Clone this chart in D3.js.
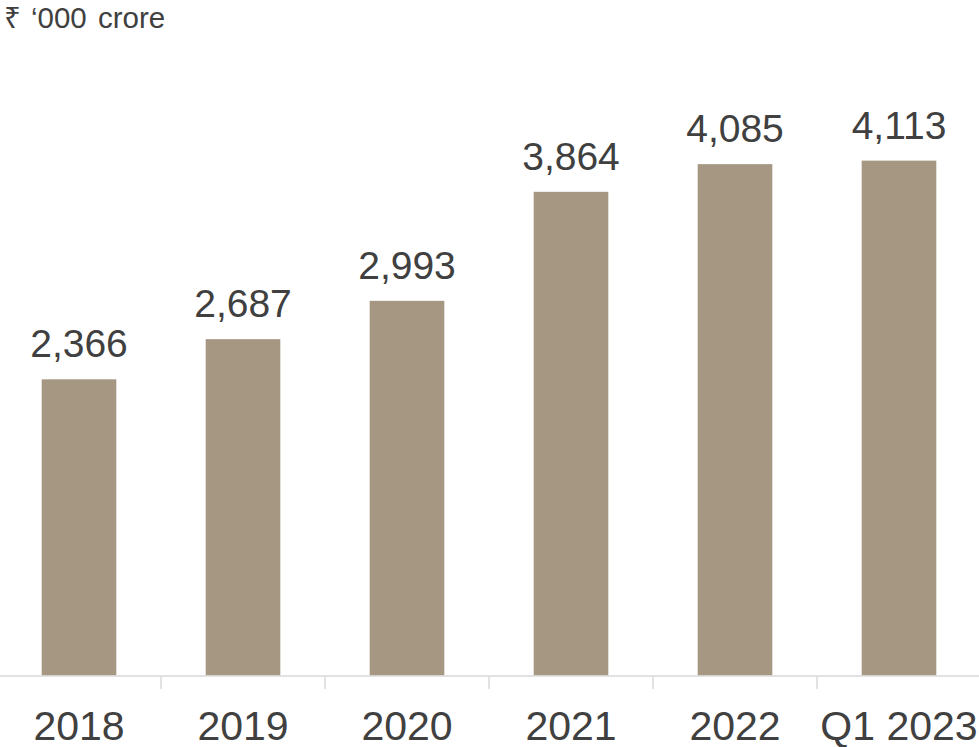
<!DOCTYPE html>
<html><head><meta charset="utf-8">
<script src="https://cdn.jsdelivr.net/npm/d3@7"></script>
<style>body{margin:0;background:#fff}svg{display:block}text{font-family:"Liberation Sans",Arial,sans-serif}</style>
</head><body><svg id="c" width="979" height="747"></svg>
<script>
const categories = ["2018","2019","2020","2021","2022","Q1 2023"];
const values = [2366,2687,2993,3864,4085,4113];
const unitParts = ["₹", "‘000 crore"];

const svg = d3.select("#c");
const x = d3.scaleBand().domain(categories).range([-3, 981]).paddingInner(0.545).paddingOuter(0.2725);
const y = d3.scaleLinear().domain([0, 5000]).range([675.5, 49.6]);
const fmt = d3.format(",");

const title = svg.append("text").attr("y", 27.5).attr("font-size", 29.5).attr("fill", "#404040").attr("word-spacing", 3);
const partX = [4, 31];
title.selectAll("tspan").data(unitParts).join("tspan").attr("x", (d,i) => partX[i]).text((d,i) => i === 0 ? d + " " : d);

svg.selectAll("rect.bar").data(values).join("rect").attr("class","bar")
  .attr("x", (d,i) => x(categories[i])).attr("width", x.bandwidth())
  .attr("y", d => y(d)).attr("height", d => y(0) - y(d)).attr("fill", "#A69783");

svg.selectAll("text.val").data(values).join("text").attr("class","val")
  .attr("x", (d,i) => x(categories[i]) + x.bandwidth()/2).attr("y", d => y(d) - 22)
  .attr("text-anchor","middle").attr("font-size", 39).attr("fill","#404040").text(d => fmt(d));

// axis
svg.append("line").attr("x1",0).attr("x2",979).attr("y1",676).attr("y2",676).attr("stroke","#D9D9D9").attr("stroke-width",1.5);
const step = x.step();
svg.selectAll("line.tick").data(categories.slice(1)).join("line").attr("class","tick")
  .attr("x1", d => x(d) - step*x.paddingInner()/2).attr("x2", d => x(d) - step*x.paddingInner()/2)
  .attr("y1",676).attr("y2",689).attr("stroke","#D9D9D9").attr("stroke-width",1.5);
svg.selectAll("text.cat").data(categories).join("text").attr("class","cat")
  .attr("x", d => x(d) + x.bandwidth()/2).attr("y", 740)
  .attr("text-anchor","middle").attr("font-size", 41).attr("fill","#404040").text(d => d);
</script></body></html>
